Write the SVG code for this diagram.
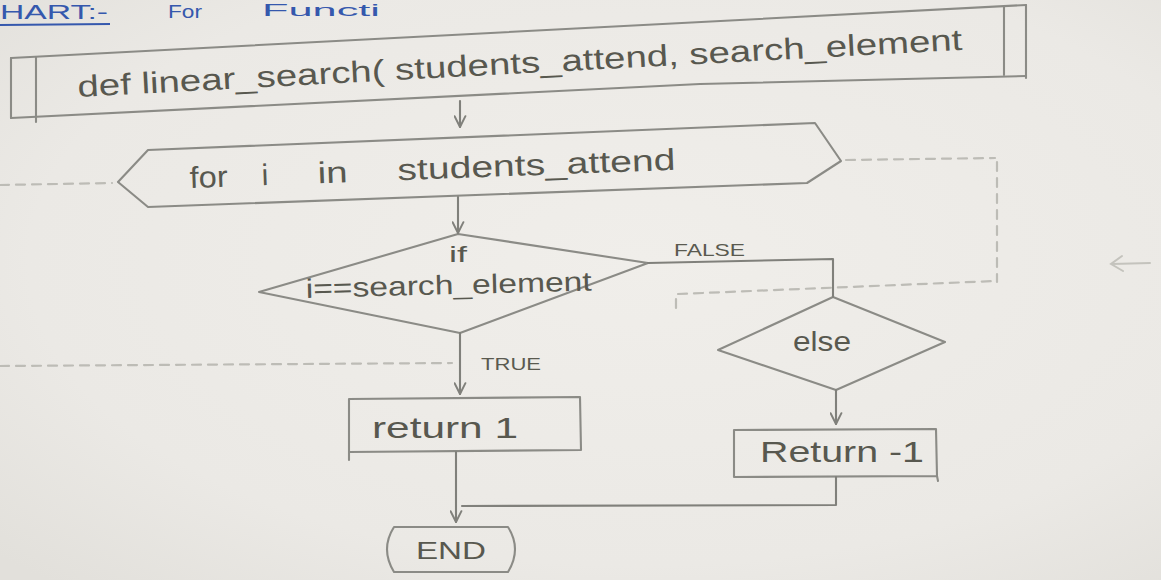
<svg xmlns="http://www.w3.org/2000/svg" width="1161" height="580" viewBox="0 0 1161 580">
  <style>
    .ln{fill:none;stroke:#8b8b86;stroke-width:2.1;stroke-linecap:round;stroke-linejoin:round}
    .ar{fill:none;stroke:#80807b;stroke-width:2.1;stroke-linecap:round;stroke-linejoin:round}
    .hw{font-family:"Liberation Sans",Arial,sans-serif;fill:#58584f}
    .lbl{font-family:"Liberation Sans",Arial,sans-serif;fill:#5a5a50;font-size:17px}
    .pen{font-family:"Liberation Sans",Arial,sans-serif;fill:#3558ad}
    .ghost{fill:none;stroke:#bdbcb6;stroke-width:2.2;stroke-dasharray:9 7;stroke-linecap:round}
  </style>
  <defs>
    <radialGradient id="paper" cx="0.55" cy="0.45" r="0.75">
      <stop offset="0" stop-color="#f0eeea"/>
      <stop offset="0.7" stop-color="#ebe9e5"/>
      <stop offset="1" stop-color="#e2e0db"/>
    </radialGradient>
    <marker id="v" viewBox="0 0 12 12" refX="11" refY="6" markerWidth="13" markerHeight="13" markerUnits="userSpaceOnUse" orient="auto">
      <path d="M1,1 L11,6 L1,11" fill="none" stroke="#80807b" stroke-width="1.8" stroke-linecap="round" stroke-linejoin="round"/>
    </marker>
  </defs>

  <!-- paper -->
  <rect width="1161" height="580" fill="url(#paper)"/>

  <!-- heading in blue pen -->
  <g id="heading">
    <text class="pen" font-size="20" x="0" y="19" textLength="108" lengthAdjust="spacingAndGlyphs">HART:-</text>
    <text class="pen" font-size="19" x="168" y="18" textLength="34" lengthAdjust="spacingAndGlyphs">For</text>
    <text class="pen" font-size="17" x="262" y="16" textLength="118" lengthAdjust="spacingAndGlyphs">Functi</text>
    <path d="M0,25 L110,24" stroke="#3558ad" stroke-width="2" fill="none"/>
  </g>

  <!-- faint dashed marks showing through from the other side of the sheet -->
  <g id="show-through">
    <path class="ghost" d="M0,185 L112,183"/>
    <path class="ghost" d="M846,160 L995,158 M997,162 L997,282"/>
    <path class="ghost" d="M678,294 L995,281 M676,299 L676,314"/>
    <path class="ghost" d="M0,366 L452,363"/>
    <path d="M1150,263 L1112,264 M1122,256 L1111,264 L1123,271" fill="none" stroke="#c4c3bd" stroke-width="2" stroke-linecap="round"/>
  </g>

  <!-- function definition (predefined process) -->
  <g id="n-def">
    <path class="ln" d="M11,58 L1026,5"/>
    <path class="ln" d="M11,118 L700,84 L1026,76"/>
    <path class="ln" d="M11,58 L11,118 M36,57 L36,122"/>
    <path class="ln" d="M1004,7 L1004,75 M1026,5 L1026,78"/>
    <text class="hw" font-size="30" x="78" y="97" transform="rotate(-3.05 78 97)" textLength="886" lengthAdjust="spacingAndGlyphs">def linear_search( students_attend, search_element</text>
  </g>

  <!-- loop header -->
  <g id="n-loop">
    <polygon class="ln" points="118,182 148,150 815,123 841,161 807,183 148,207"/>
    <text class="hw" font-size="30" x="190" y="188" transform="rotate(-2.15 190 188)"><tspan textLength="38" lengthAdjust="spacingAndGlyphs">for</tspan><tspan x="262">i</tspan><tspan x="318" textLength="30" lengthAdjust="spacingAndGlyphs">in</tspan><tspan x="398" textLength="278" lengthAdjust="spacingAndGlyphs">students_attend</tspan></text>
  </g>

  <!-- condition -->
  <g id="n-if">
    <polygon class="ln" points="458,234 648,263 460,333 259,292"/>
    <text class="hw" font-size="22" x="449" y="262" textLength="18" lengthAdjust="spacingAndGlyphs">if</text>
    <text class="hw" font-size="27" x="306" y="298" transform="rotate(-1.5 306 298)" textLength="286" lengthAdjust="spacingAndGlyphs">i==search_element</text>
  </g>

  <!-- else branch -->
  <g id="n-else">
    <polygon class="ln" points="833,297 945,342 836,390 718,350"/>
    <text class="hw" font-size="27" x="793" y="351" textLength="58" lengthAdjust="spacingAndGlyphs">else</text>
  </g>

  <!-- return 1 -->
  <g id="n-ret1">
    <path class="ln" d="M349,399 L580,397 L581,450 L349,452 Z M349,452 L349,460"/>
    <text class="hw" font-size="29" x="372" y="438" textLength="146" lengthAdjust="spacingAndGlyphs">return 1</text>
  </g>

  <!-- return -1 -->
  <g id="n-retm1">
    <path class="ln" d="M734,430 L936,429 L937,476 L734,477 Z M937,476 L938,481"/>
    <text class="hw" font-size="29" x="760" y="462" textLength="164" lengthAdjust="spacingAndGlyphs">Return -1</text>
  </g>

  <!-- terminator -->
  <g id="n-end">
    <path class="ln" d="M394,527 L508,527 Q522,549 508,572 L394,572 Q380,549 394,527 Z"/>
    <text class="hw" font-size="24" x="416" y="559" textLength="70" lengthAdjust="spacingAndGlyphs">END</text>
  </g>

  <!-- connectors -->
  <g id="connectors">
    <path class="ar" d="M460,101 L460,127" marker-end="url(#v)"/>
    <path class="ar" d="M458,197 L458,233" marker-end="url(#v)"/>
    <path class="ar" d="M648,263 L833,259 L833,297"/>
    <path class="ar" d="M460,333 L460,394" marker-end="url(#v)"/>
    <path class="ar" d="M836,390 L836,424" marker-end="url(#v)"/>
    <path class="ar" d="M456,452 L456,522" marker-end="url(#v)"/>
    <path class="ar" d="M836,477 L836,505 L462,506"/>
    <text class="lbl" x="674" y="256" textLength="71" lengthAdjust="spacingAndGlyphs">FALSE</text>
    <text class="lbl" x="481" y="370" textLength="60" lengthAdjust="spacingAndGlyphs">TRUE</text>
  </g>
</svg>
